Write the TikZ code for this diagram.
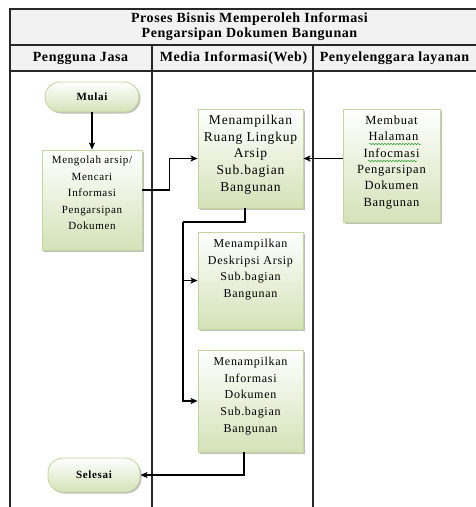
\documentclass[tikz,border=0pt]{standalone}
\usepackage{fontspec}
\setmainfont{Liberation Serif}
\newfontfamily\headfont[LetterSpace=4]{Liberation Serif}
\newfontfamily\boxfont[LetterSpace=6]{Liberation Serif}
\usetikzlibrary{arrows.meta,shadows,decorations.pathmorphing}

\definecolor{rowgray}{RGB}{242,242,242}
\definecolor{gridline}{RGB}{40,40,40}
\definecolor{boxgreen}{RGB}{212,226,184}
\definecolor{boxedge}{RGB}{196,214,160}
\definecolor{squiggle}{RGB}{40,160,40}

% box content: fixed size, text hanging from the top
\newcommand{\boxlines}[4]{\parbox[c][#2][t]{#1}{\centering\vspace*{#3}#4\par}}

\begin{document}
\begin{tikzpicture}[x=1pt,y=-1pt,
  tline/.style={draw=gridline,line width=1.3pt},
  headtxt/.style={font=\headfont\bfseries\fontsize{14}{16}\selectfont,inner sep=0pt,align=center},
  procbox/.style={draw=boxedge,line width=0.9pt,top color=white,bottom color=boxgreen,
    inner sep=0pt,drop shadow={shadow xshift=1.5pt,shadow yshift=-1.5pt,opacity=0.25,fill=black}},
  pill/.style={procbox,rounded corners=15pt,
    font=\boxfont\bfseries\fontsize{11}{13}\selectfont},
  flow/.style={draw=black,line width=1.3pt,-{Stealth[length=7pt,width=6pt,inset=1.5pt]}},
  plain/.style={draw=black,line width=1.3pt}
]
\useasboundingbox (0,0) rectangle (476,507);

% swimlane table
\fill[rowgray] (10,9) rectangle (476,71);
\draw[tline] (476,9) -- (10,9) -- (10,507);
\draw[tline] (10,45) -- (476,45);
\draw[tline,line width=1.7pt] (10,71) -- (476,71);
\draw[tline] (152,45) -- (152,507);
\draw[tline] (313,45) -- (313,507);

\node[headtxt] (title) at (249.5,27) {Proses Bisnis Memperoleh Informasi\\[-1pt]Pengarsipan Dokumen Bangunan};
\node[headtxt] (laneA) at (80.5,58) {Pengguna Jasa};
\node[headtxt] (laneB) at (233.5,58) {Media Informasi(Web)};
\node[headtxt] (laneC) at (394.5,58) {Penyelenggara layanan};

% flow elements
\node[pill,minimum width=94pt,minimum height=30pt] (mulai) at (92,97) {Mulai};
\node[procbox] (proc1) at (92,200)
  {\boxfont\fontsize{11}{16.5}\selectfont\boxlines{100pt}{100pt}{6pt}{Mengolah arsip/\\Mencari\\Informasi\\Pengarsipan\\Dokumen}};
\node[procbox] (proc2) at (250.5,158.5)
  {\boxfont\fontsize{13.5}{16.7}\selectfont\boxlines{105pt}{99pt}{6pt}{Menampilkan\\Ruang Lingkup\\Arsip\\Sub.bagian\\Bangunan}};
\node[procbox] (proc3) at (391.5,165.5)
  {\boxfont\fontsize{12.5}{16.3}\selectfont\boxlines{97pt}{113pt}{7pt}{Membuat\\\ Halaman\\Infocmasi\\Pengarsipan\\Dokumen\\Bangunan}};
\node[procbox] (proc4) at (250.5,280.5)
  {\boxfont\fontsize{12}{16.7}\selectfont\boxlines{105pt}{97pt}{7pt}{Menampilkan\\Deskripsi Arsip\\Sub.bagian\\Bangunan}};
\node[procbox] (proc5) at (250.5,401)
  {\boxfont\fontsize{12}{16.7}\selectfont\boxlines{105pt}{102pt}{7pt}{Menampilkan\\Informasi\\Dokumen\\Sub.bagian\\Bangunan}};
\node[pill,minimum width=92pt,minimum height=34pt] (selesai) at (94,475) {Selesai};

% spell-check squiggles in the provider box
\draw[squiggle,line width=0.5pt,decorate,decoration={snake,amplitude=0.7pt,segment length=3pt}]
  (369,144) -- (421,144);
\draw[squiggle,line width=0.5pt,decorate,decoration={snake,amplitude=0.7pt,segment length=3pt}]
  (368,161) -- (417,161);

% connectors
\draw[flow] (mulai) -- (proc1);
\draw[flow] ([yshift=10pt]proc1.east) -- ++(27,0) |- (proc2.west);
\draw[flow] (proc3.west |- proc2.east) -- (proc2.east);
\coordinate (split) at (183,222);
\draw[plain] ([xshift=-5.5pt]proc2.south) |- (split);
\draw[flow] (split) |- (proc4.west);
\draw[flow] (split) |- (proc5.west);
\draw[flow] ([xshift=-6.5pt]proc5.south) |- (selesai.east);
\end{tikzpicture}
\end{document}
